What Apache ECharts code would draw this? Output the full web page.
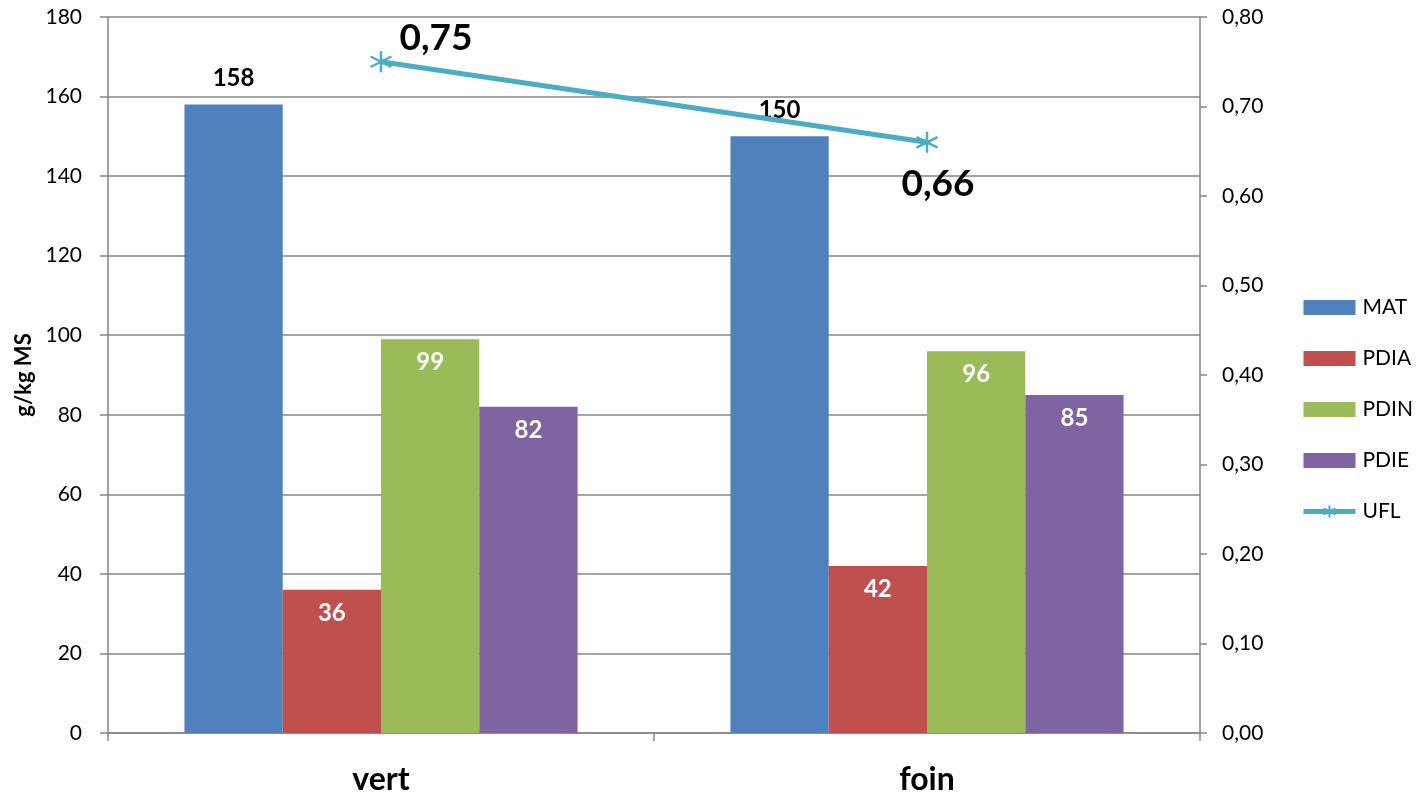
<!DOCTYPE html>
<html>
<head>
<meta charset="utf-8">
<script src="https://cdn.jsdelivr.net/npm/echarts@6/dist/echarts.min.js"></script>
<style>
  html, body { margin: 0; padding: 0; background: #fff; }
  #chart { width: 1421px; height: 801px; }
</style>
</head>
<body>
<div id="chart"></div>
<script>
// Feed composition: protein values (g/kg MS) and energy value (UFL)
const categories = ['vert', 'foin'];
const mat  = [158, 150];
const pdia = [36, 42];
const pdin = [99, 96];
const pdie = [82, 85];
const ufl  = [0.75, 0.66];

const FONT = 'Lato, "Open Sans", sans-serif';
const AXIS_GRAY = '#868686';
const UFL_COLOR = '#4BACC6';
const asterisk = 'path://M0,-10L0,10M-8.66,-5L8.66,5M-8.66,5L8.66,-5';

const chart = echarts.init(document.getElementById('chart'));

function barSeries(name, data, color, labelInside) {
  return {
    name, type: 'bar', data, yAxisIndex: 0,
    barGap: '0%', barCategoryGap: '28%',
    itemStyle: { color },
    label: labelInside
      ? { show: true, position: 'insideTop', distance: 11, color: '#fff',
          fontFamily: FONT, fontWeight: 'bold', fontSize: 24 }
      : { show: true, position: 'top', distance: 14, color: '#000',
          fontFamily: FONT, fontWeight: 'bold', fontSize: 24 }
  };
}

chart.setOption({
  animation: false,
  textStyle: { fontFamily: FONT },
  grid: { left: 108, right: 221, top: 17, bottom: 68, containLabel: false },
  legend: {
    orient: 'vertical', left: 1301, top: 297, padding: 0,
    itemWidth: 52, itemHeight: 15, itemGap: 30,
    textStyle: { fontFamily: FONT, fontSize: 21, color: '#000', padding: [0, 0, 0, 2] },
    data: [
      { name: 'MAT', icon: 'rect' },
      { name: 'PDIA', icon: 'rect' },
      { name: 'PDIN', icon: 'rect' },
      { name: 'PDIE', icon: 'rect' },
      { name: 'UFL', lineStyle: { width: 5, color: UFL_COLOR } }
    ]
  },
  xAxis: {
    type: 'category', data: categories, boundaryGap: true,
    axisLine: { lineStyle: { color: AXIS_GRAY, width: 1.5 } },
    axisTick: { show: true, length: 8, alignWithLabel: false, lineStyle: { color: AXIS_GRAY, width: 1.5 } },
    axisLabel: { color: '#000', fontFamily: FONT, fontSize: 32, fontWeight: 'bold', margin: 31 }
  },
  yAxis: [
    {
      type: 'value', min: 0, max: 180, interval: 20,
      name: 'g/kg MS', nameLocation: 'middle', nameGap: 68, nameRotate: 90,
      nameTextStyle: { color: '#000', fontFamily: FONT, fontSize: 22, fontWeight: 'bold' },
      axisLine: { show: true, lineStyle: { color: AXIS_GRAY, width: 1.5 } },
      axisTick: { show: true, inside: false, length: 8, lineStyle: { color: AXIS_GRAY, width: 1.5 } },
      axisLabel: { color: '#000', fontFamily: FONT, fontSize: 21, margin: 26 },
      splitLine: { show: true, lineStyle: { color: AXIS_GRAY, width: 1.5 } }
    },
    {
      type: 'value', min: 0, max: 0.8, interval: 0.1, position: 'right',
      axisLine: { show: true, lineStyle: { color: AXIS_GRAY, width: 1.5 } },
      axisTick: { show: true, inside: false, length: 7, lineStyle: { color: AXIS_GRAY, width: 1.5 } },
      axisLabel: {
        color: '#000', fontFamily: FONT, fontSize: 21, margin: 22,
        formatter: v => v.toFixed(2).replace('.', ',')
      },
      splitLine: { show: false }
    }
  ],
  series: [
    barSeries('MAT', mat, '#4F81BD', false),
    barSeries('PDIA', pdia, '#C0504D', true),
    barSeries('PDIN', pdin, '#9BBB59', true),
    barSeries('PDIE', pdie, '#8064A2', true),
    {
      name: 'UFL', type: 'line', yAxisIndex: 1,
      data: ufl.map((v, i) => ({
        value: v,
        label: i === 0
          ? { position: 'top', offset: [55, 12] }
          : { position: 'bottom', offset: [11, 7] }
      })),
      lineStyle: { color: UFL_COLOR, width: 5 },
      itemStyle: { color: 'rgba(0,0,0,0)', borderColor: UFL_COLOR, borderWidth: 2.5 },
      symbol: asterisk, symbolSize: 21, showAllSymbol: true,
      label: {
        show: true, color: '#000', fontFamily: FONT, fontWeight: 'bold', fontSize: 37,
        formatter: p => p.value.toFixed(2).replace('.', ',')
      },
      z: 5
    }
  ]
});
</script>
</body>
</html>
